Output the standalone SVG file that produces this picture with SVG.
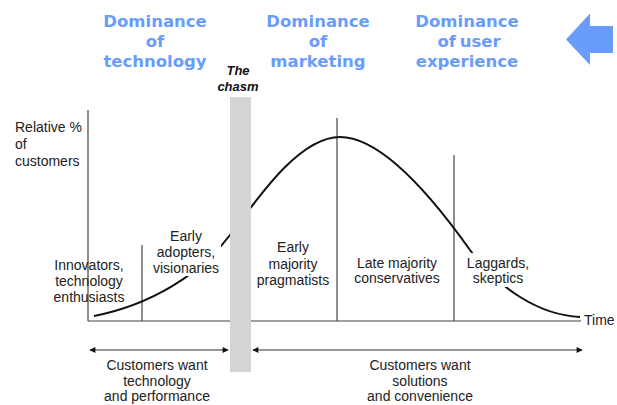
<svg xmlns="http://www.w3.org/2000/svg" width="617" height="405" viewBox="0 0 617 405">
<style>
.hd{font-family:"DejaVu Sans",Verdana,sans-serif;font-weight:bold;font-size:16.5px;fill:#6a9cfc;text-anchor:middle}
.lb{font-family:"Liberation Sans",Arial,sans-serif;font-size:14px;fill:#222;text-anchor:middle}
.ax{stroke:#444;stroke-width:1.2;fill:none}
.cv{stroke:#111;stroke-width:2;fill:none}
.ar{stroke:#333;stroke-width:1.2;fill:none}
</style>
<defs>
<marker id="ah" viewBox="0 0 10 10" refX="9" refY="5" markerWidth="9" markerHeight="6" markerUnits="userSpaceOnUse" orient="auto-start-reverse">
<path d="M0,0 L10,5 L0,10 z" fill="#111"/>
</marker>
<mask id="gap" maskUnits="userSpaceOnUse" x="0" y="0" width="617" height="405">
<rect x="0" y="0" width="617" height="405" fill="#fff"/>
<rect x="150" y="240" width="71" height="36" fill="#000"/>
<rect x="466" y="253" width="70" height="34" fill="#000"/>
</mask>
</defs>
<g id="headings">
<text class="hd" x="155" y="27">Dominance</text>
<text class="hd" x="155" y="47">of</text>
<text class="hd" x="155" y="67">technology</text>
<text class="hd" x="318" y="27">Dominance</text>
<text class="hd" x="318" y="47">of</text>
<text class="hd" x="318" y="67">marketing</text>
<text class="hd" x="467" y="27">Dominance</text>
<text class="hd" x="469" y="47" style="word-spacing:-2px">of user</text>
<text class="hd" x="467" y="67">experience</text>
<polygon id="back-arrow" points="566,39.5 590,13.5 590,26 613,26 613,53 590,53 590,65" fill="#6a9cfc"/>
</g>
<g id="axes">
<line class="ax" x1="88" y1="110" x2="88" y2="321"/>
<line class="ax" x1="88" y1="321" x2="581" y2="321"/>
<line class="ax" x1="142" y1="245" x2="142" y2="321"/>
<line class="ax" x1="337" y1="118" x2="337" y2="321"/>
<line class="ax" x1="454" y1="155" x2="454" y2="321"/>
</g>
<g id="connectors">
<path class="cv" mask="url(#gap)" d="M94,316 C150,305 200,275 230,235 C260,195 300,137 340,137 C382,137 433,198 470,250 C500,290 540,315 580,317"/>
<line class="ar" x1="90" y1="350" x2="228" y2="350" marker-start="url(#ah)" marker-end="url(#ah)"/>
<line class="ar" x1="253" y1="350" x2="582" y2="350" marker-start="url(#ah)" marker-end="url(#ah)"/>
</g>
<g id="chasm">
<rect x="230" y="97" width="21" height="275" fill="#d4d4d4"/>
<text x="238" y="75" style="font-family:'Liberation Sans',Arial,sans-serif;font-weight:bold;font-style:italic;font-size:13px;fill:#111;text-anchor:middle">The</text>
<text x="238" y="91" style="font-family:'Liberation Sans',Arial,sans-serif;font-weight:bold;font-style:italic;font-size:13px;fill:#111;text-anchor:middle">chasm</text>
</g>
<g id="y-label">
<text class="lb" x="15" y="132" style="text-anchor:start">Relative %</text>
<text class="lb" x="15" y="149" style="text-anchor:start">of</text>
<text class="lb" x="15" y="166" style="text-anchor:start">customers</text>
</g>
<g id="innovators">
<text class="lb" x="89" y="270">Innovators,</text>
<text class="lb" x="89" y="286">technology</text>
<text class="lb" x="89" y="302">enthusiasts</text>
</g>
<g id="early-adopters">
<text class="lb" x="186" y="241">Early</text>
<text class="lb" x="186" y="257">adopters,</text>
<text class="lb" x="186" y="273">visionaries</text>
</g>
<g id="early-majority">
<text class="lb" x="293" y="252">Early</text>
<text class="lb" x="293" y="268.5">majority</text>
<text class="lb" x="293" y="285">pragmatists</text>
</g>
<g id="late-majority">
<text class="lb" x="397" y="268">Late majority</text>
<text class="lb" x="397" y="283">conservatives</text>
</g>
<g id="laggards">
<text class="lb" x="498" y="268">Laggards,</text>
<text class="lb" x="498" y="283">skeptics</text>
</g>
<g id="time-label">
<text class="lb" x="584" y="325" style="text-anchor:start">Time</text>
</g>
<g id="tech-performance">
<text class="lb" x="157" y="370">Customers want</text>
<text class="lb" x="157" y="386">technology</text>
<text class="lb" x="157" y="401">and performance</text>
</g>
<g id="solutions-convenience">
<text class="lb" x="420" y="370">Customers want</text>
<text class="lb" x="420" y="386">solutions</text>
<text class="lb" x="420" y="401">and convenience</text>
</g>
</svg>
